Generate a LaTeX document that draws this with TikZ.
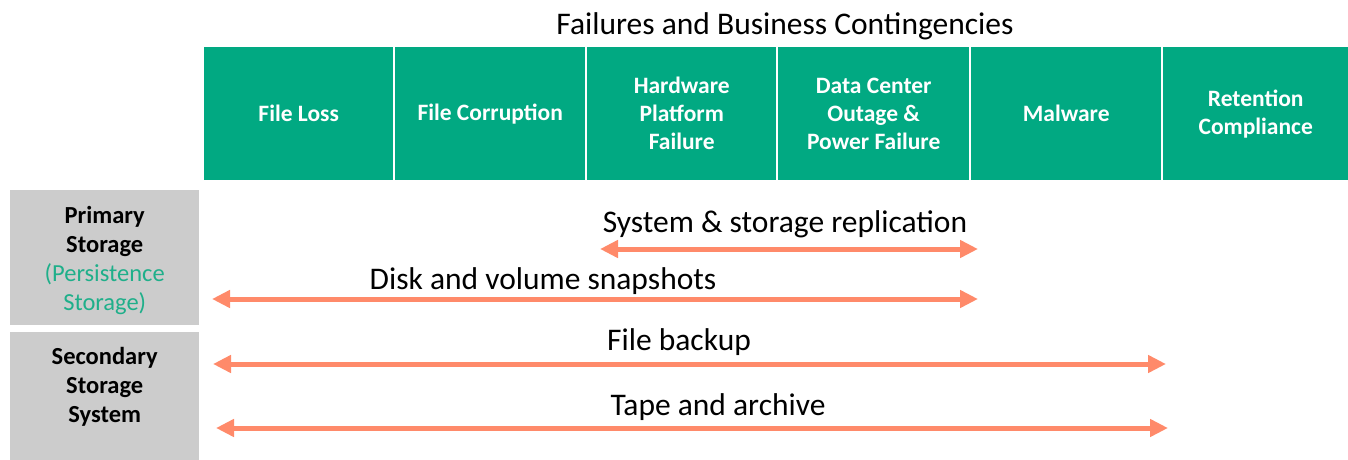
\documentclass[tikz,border=0pt]{standalone}
\usepackage{fontspec}
\setmainfont{Carlito}
\usetikzlibrary{arrows.meta}
\definecolor{hpegreen}{HTML}{01A982}
\definecolor{sidegray}{HTML}{CCCCCC}
\definecolor{coral}{HTML}{FF8A6A}
\definecolor{tealtxt}{HTML}{1FAF8A}
\tikzset{
  hdr/.style={fill=hpegreen, draw=none, text=white, font=\bfseries\fontsize{23.5}{28}\selectfont, align=center, anchor=north west, inner sep=0pt},
  sidebox/.style={fill=sidegray, draw=none, anchor=north west, inner sep=0pt},
  sidetext/.style={text=black, font=\bfseries\fontsize{24.5}{29}\selectfont, align=center, inner sep=0pt},
  lbl/.style={font=\fontsize{31.5}{34}\selectfont, inner sep=0pt},
  arr/.style={draw=coral, line width=5pt, {Triangle[length=18pt,width=17pt]}-{Triangle[length=18pt,width=17pt]}}
}
\begin{document}
\begin{tikzpicture}[x=1pt,y=-1pt]
\useasboundingbox[fill=white] (0,0) rectangle (1348,460);
\node[font=\fontsize{31.5}{34}\selectfont] (title) at (785,26) {Failures and Business Contingencies};
\node[hdr, minimum width=189pt, minimum height=133pt] (h1) at (204,47) {File Loss};
\node[hdr, minimum width=190pt, minimum height=133pt] (h2) at (395,47) {File Corruption};
\node[hdr, minimum width=189pt, minimum height=133pt] (h3) at (587,47) {Hardware\\Platform\\Failure};
\node[hdr, minimum width=191pt, minimum height=133pt] (h4) at (778,47) {Data Center\\Outage \&\\Power Failure};
\node[hdr, minimum width=190pt, minimum height=133pt] (h5) at (971,47) {Malware};
\node[hdr, minimum width=185pt, minimum height=133pt] (h6) at (1163,47) {Retention\\Compliance};
\node[sidebox, minimum width=189pt, minimum height=135pt] (s1) at (10,190) {};
\node[sidebox, minimum width=189pt, minimum height=128pt] (s2) at (10,332) {};
\node[sidetext] (s1t) at ([yshift=-2.5pt]s1.center) {Primary\\Storage\\{\mdseries\color{tealtxt}(Persistence}\\{\mdseries\color{tealtxt}Storage)}};
\node[sidetext] (s2t) at ([yshift=-3pt]s2.center) {Secondary\\Storage\\System\\~};
\coordinate (r1) at (600,249); \coordinate (r2) at (978,249);
\coordinate (d1) at (212,299); \coordinate (d2) at (978,299);
\coordinate (b1) at (213,364); \coordinate (b2) at (1166,364);
\coordinate (t1) at (216,428); \coordinate (t2) at (1168,428);
\draw[arr] (r1) -- (r2);
\draw[arr] (d1) -- (d2);
\draw[arr] (b1) -- (b2);
\draw[arr] (t1) -- (t2);
\node[lbl] (lr) at (785,224) {System \& storage replication};
\node[lbl] (ld) at (543,281) {Disk and volume snapshots};
\node[lbl] (lb) at (679,342) {File backup};
\node[lbl] (lt) at (718,407) {Tape and archive};
\end{tikzpicture}
\end{document}
